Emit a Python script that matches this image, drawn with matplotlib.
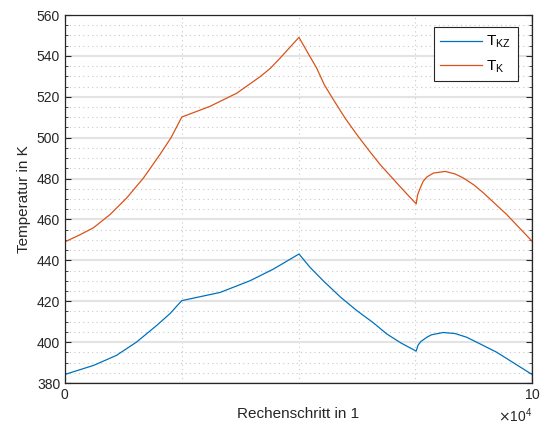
import matplotlib.pyplot as plt
from matplotlib.ticker import MultipleLocator, ScalarFormatter
import numpy as np

plt.rcParams['font.family'] = ['Liberation Sans', 'DejaVu Sans']

# Rechenschritte (steps) and temperatures in K
step_k = [0, 3000, 6060, 9640, 13200, 16800, 20300, 22700, 25000, 31000, 36800, 41800,
          44000, 46000, 50100, 52000, 53900, 55500, 57500, 60000, 62500, 65000,
          67500, 70000, 71700, 75200, 75500, 76000, 76700, 77500, 78900, 81400,
          83500, 85300, 87500, 89600, 94600, 100000]
T_K = [449.1, 452.3, 455.9, 462.4, 470.5, 480.3, 491.7, 500.0, 510.1, 515.3, 521.8, 529.9,
       534.0, 538.8, 549.1, 541.5, 534.0, 526.0, 518.5, 509.5, 501.5, 494.0,
       486.8, 480.5, 476.2, 467.6, 472.0, 475.0, 478.7, 480.8, 482.7, 483.5,
       482.3, 480.3, 477.0, 473.0, 462.4, 449.4]

step_kz = [0, 6100, 11000, 15300, 19600, 22500, 25000, 33200, 39600, 44600, 50100,
           52500, 55300, 59000, 62500, 66000, 68900, 72000, 75200, 75600, 76200,
           77500, 78500, 81000, 83500, 86000, 89000, 92400, 100000]
T_KZ = [384.2, 388.6, 393.5, 400.0, 408.1, 414.0, 420.3, 424.3, 430.0, 435.7, 443.1,
        436.5, 430.0, 422.0, 415.4, 409.5, 404.0, 399.5, 395.6, 398.5, 400.3,
        402.4, 403.6, 404.7, 404.2, 402.4, 399.0, 395.1, 384.2]

fig = plt.figure(figsize=(5.42, 4.30), dpi=100)
ax = fig.add_axes([0.12, 0.1093, 0.8615, 0.8557])

ax.plot(step_kz, T_KZ, color='#0072BD', lw=0.9, label=r'$\mathregular{T_{KZ}}$')
ax.plot(step_k, T_K, color='#D95319', lw=0.9, label=r'$\mathregular{T_{K}}$')

ax.set_xlim(0, 100000)
ax.set_ylim(380, 560)
ax.xaxis.set_major_locator(MultipleLocator(100000))
ax.xaxis.set_minor_locator(MultipleLocator(25000))
ax.yaxis.set_major_locator(MultipleLocator(20))
ax.yaxis.set_minor_locator(MultipleLocator(5))

fmt = ScalarFormatter(useMathText=True)
fmt.set_powerlimits((4, 4))
ax.xaxis.set_major_formatter(fmt)
ax.xaxis.get_offset_text().set_fontsize(10)
ax.xaxis.get_offset_text().set_color('#262626')

ax.grid(which='major', color='#e3e3e3', lw=1.5, ls='-')
ax.grid(which='minor', color='#c8c8c8', lw=0.8, ls=(0, (1, 3)))
ax.set_axisbelow(True)

ax.tick_params(which='both', direction='in', top=True, right=True,
               colors='#262626', labelsize=10)
ax.tick_params(which='major', length=4, width=0.8)
ax.tick_params(axis='y', which='minor', length=2, width=0.6)
ax.tick_params(axis='x', which='minor', length=0)
for s in ax.spines.values():
    s.set_color('#262626')
    s.set_linewidth(0.9)

ax.set_xlabel('Rechenschritt in 1', fontsize=11, color='#262626')
ax.set_ylabel('Temperatur in K', fontsize=11, color='#262626')

leg = ax.legend(loc='upper right', bbox_to_anchor=(0.970, 0.967), borderaxespad=0,
                fontsize=11, fancybox=False, framealpha=1, edgecolor='#262626',
                handlelength=2.7, handletextpad=0.3, borderpad=0.45, labelspacing=0.5)
leg.get_frame().set_linewidth(0.8)

fig.savefig('out.png', dpi=100)
